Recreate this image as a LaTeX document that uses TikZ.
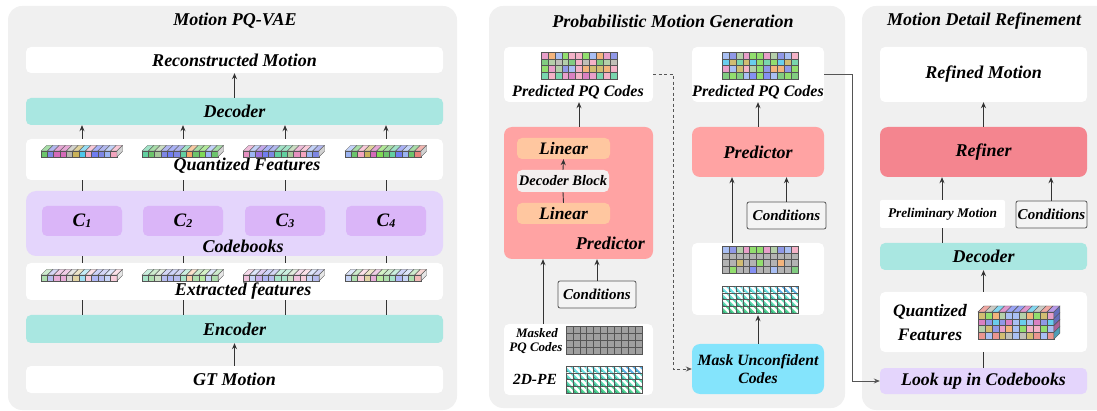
\documentclass[tikz,border=0pt]{standalone}
\usepackage{fontspec}
\setmainfont{Liberation Serif}
\usetikzlibrary{arrows.meta}

\definecolor{panelbg}{HTML}{F0F0F0}
\definecolor{tealb}{HTML}{A9E7E1}
\definecolor{lav}{HTML}{E4D5FC}
\definecolor{lavin}{HTML}{DAB5F8}
\definecolor{salmonb}{HTML}{FFA3A3}
\definecolor{peach}{HTML}{FFC7A0}
\definecolor{pinkr}{HTML}{F4858F}
\definecolor{cyanb}{HTML}{84E4FC}
\definecolor{linec}{HTML}{333333}
\definecolor{condbg}{HTML}{F4F4F4}
\definecolor{edgec}{HTML}{555555}
\definecolor{decblk}{HTML}{F3EFEF}
\definecolor{peA}{HTML}{6FE0E6}
\definecolor{peB}{HTML}{4CD088}
\definecolor{peC}{HTML}{5AAEE6}
\definecolor{peD}{HTML}{2A9A78}
% code palette
\definecolor{p1}{HTML}{6CC46C}
\definecolor{p2}{HTML}{7D86E3}
\definecolor{p3}{HTML}{D46AB8}
\definecolor{p4}{HTML}{E58FC0}
\definecolor{p5}{HTML}{B5B5AC}
\definecolor{p6}{HTML}{C9B25A}
\definecolor{p7}{HTML}{4FC6EA}
\definecolor{p8}{HTML}{F3A5BE}
\definecolor{p9}{HTML}{6F7DF0}
\definecolor{p10}{HTML}{9BB4F2}
\definecolor{p11}{HTML}{62CFA0}
\definecolor{p12}{HTML}{F2A766}
\definecolor{p13}{HTML}{E8837C}
\definecolor{p14}{HTML}{7FD955}
\definecolor{p15}{HTML}{9B6FDE}
\definecolor{p16}{HTML}{A7C79A}

\newcommand\bi[1]{\fontsize{#1}{#1}\selectfont\bfseries\itshape}

% box from corner coordinates: name, x1, y1, x2, y2, style, text
\newcommand\bx[7]{\node[#6,minimum width={((#4)-(#2))*1pt},minimum height={((#5)-(#3))*1pt}] (#1) at ({((#2)+(#4))/2},{((#3)+(#5))/2}) {#7};}

% 3D feature bar: x, y (top of front face), opacity, colours
\newcommand\fbar[4]{%
  \foreach \cc [count=\i from 0] in {#4}{%
    \pgfmathsetmacro\xa{#1+\i*6.33}
    \filldraw[fill=\cc,fill opacity=#3,draw=edgec,line width=0.35pt] (\xa,#2) rectangle ++(6.33,6);
    \filldraw[fill=\cc!60!white,fill opacity=#3,draw=edgec,line width=0.35pt] (\xa,#2) -- ++(5.5,-5.5) -- ++(6.33,0) -- ++(-5.5,5.5) -- cycle;
  }
  \filldraw[fill=gray!35,fill opacity=#3,draw=edgec,line width=0.35pt] ({#1+75.96},#2) -- ++(5.5,-5.5) -- ++(0,6) -- ++(-5.5,5.5) -- cycle;
}

% coloured code grid: x, y, seed
\newcommand\cgrid[3]{%
  \foreach \r in {0,...,3}{\foreach \c in {0,...,10}{%
    \pgfmathtruncatemacro\k{mod(\c*\c*3+\r*\c*7+\r*13+\c*5+#3,16)+1}
    \filldraw[fill=p\k,fill opacity=0.85,draw=edgec,line width=0.4pt] ({#1+\c*6.9},{#2+\r*6.8}) rectangle ++(6.9,6.8);
  }}}

% partly masked code grid: x, y, seed
\newcommand\mgrid[3]{%
  \foreach \r in {0,...,3}{\foreach \c in {0,...,10}{%
    \pgfmathtruncatemacro\k{mod(\c*\c*3+\r*\c*7+\r*13+\c*5+#3,16)+1}
    \pgfmathtruncatemacro\m{mod(\c*5+\r*3+\c*\r+#3,3)}
    \ifnum\r>0 \ifnum\m<2 \def\fc{gray!70}\else\def\fc{p\k}\fi\else\def\fc{p\k}\fi
    \filldraw[fill=\fc,fill opacity=0.85,draw=edgec,line width=0.4pt] ({#1+\c*6.9},{#2+\r*6.8}) rectangle ++(6.9,6.8);
  }}}

% fully masked grid: x, y
\newcommand\graygrid[2]{%
  \foreach \r in {0,...,3}{\foreach \c in {0,...,10}{%
    \filldraw[fill=gray!75,draw=edgec,line width=0.5pt] ({#1+\c*6.9},{#2+\r*7}) rectangle ++(6.9,7);
  }}}

% positional encoding grid: x, y
\newcommand\pegrid[2]{%
  \foreach \r in {0,...,3}{\foreach \c in {0,...,10}{%
    \pgfmathsetmacro\xa{#1+\c*6.9}
    \pgfmathsetmacro\ya{#2+\r*6.8}
    \pgfmathtruncatemacro\mixv{100-\r*30}
    \ifnum\r=0 \ifnum\c>7 \def\fc{peC}\else\def\fc{peA}\fi\else\def\fc{peA!\mixv!peB}\fi
    \begin{scope}
      \clip (\xa,\ya) rectangle ++(6.9,6.8);
      \fill[\fc] (\xa,\ya) rectangle ++(6.9,6.8);
      \draw[peD,line width=0.7pt] (\xa-3,\ya+1) -- ++(7,7);
      \draw[white,line width=2.6pt] (\xa+0.8,\ya-0.5) -- ++(7,7);
    \end{scope}
    \draw[edgec,line width=0.4pt] (\xa,\ya) rectangle ++(6.9,6.8);
  }}}

% code block drawn in 3D: x, y (top-left of front face), seed
\newcommand\codecube[3]{%
  \cgrid{#1}{#2}{#3}
  \foreach \c in {0,...,10}{%
    \pgfmathtruncatemacro\k{mod(\c*\c*5+\c*3+#3+7,16)+1}
    \filldraw[fill=p\k!70!white,draw=edgec,line width=0.4pt] ({#1+\c*6.9},#2) -- ++(6,-6) -- ++(6.9,0) -- ++(-6,6) -- cycle;
  }
  \foreach \r in {0,...,3}{%
    \pgfmathtruncatemacro\k{mod(\r*\r*5+\r*11+#3+3,16)+1}
    \filldraw[fill=p\k!75!black!90,draw=edgec,line width=0.4pt] ({#1+75.9},{#2+\r*6.8}) -- ++(6,-6) -- ++(0,6.8) -- ++(-6,6) -- cycle;
  }}

\begin{document}
\begin{tikzpicture}[x=1pt,y=-1pt,
  panel/.style={fill=panelbg,rounded corners=14pt,inner sep=0pt},
  box/.style={rounded corners=5pt,inner sep=0pt,font=\bi{18}},
  wbox/.style={box,fill=white},
  tip/.style={-{Stealth[length=6pt,width=5pt]}},
  arr/.style={draw=linec,line width=0.9pt,tip},
  ln/.style={draw=linec,line width=0.9pt},
  lbl/.style={inner sep=0pt,font=\bi{18}},
  cond/.style={box,fill=condbg,draw=edgec,line width=0.8pt,rounded corners=2pt,font=\bi{15}},
]
\useasboundingbox (0,0) rectangle (1097,411);

% ---------- panels ----------
\bx{pa}{8}{6}{457}{410}{panel}{}
\bx{pb}{489}{6}{845}{408}{panel}{}
\bx{pc}{862}{6}{1115}{410}{panel}{}
\node[lbl] (ta) at (235,21) {Motion PQ-VAE};
\node[lbl] (tb) at (673,21) {Probabilistic Motion Generation};
\node[lbl] (tc) at (984,21) {Motion Detail Refinement};

% ---------- Motion PQ-VAE ----------
\bx{recon}{26}{47}{443}{73}{wbox}{Reconstructed Motion}
\bx{dec}{26}{98}{443}{125}{box,fill=tealb}{Decoder}
\bx{qf}{26}{139}{443}{180}{wbox}{}
\node[lbl] (qft) at (247,166) {Quantized Features};
\bx{cb}{26}{191}{443}{256}{box,fill=lav,rounded corners=10pt}{}
\node[lbl] (cbt) at (243,246) {Codebooks};
\bx{ef}{26}{263}{443}{300}{wbox}{}
\node[lbl] (eft) at (243,291) {Extracted features};
\bx{enc}{26}{315}{443}{343}{box,fill=tealb}{Encoder}
\bx{gt}{26}{366}{443}{393}{wbox}{GT Motion}

\foreach \x [count=\i] in {82,183,285,386}{%
  \coordinate (k\i) at (\x,0);
  \bx{cbk\i}{\x-40}{206}{\x+40}{236}{box,fill=lavin,font=\bi{19}}{C\kern0.3pt{\bi{12}\raisebox{-1pt}{\i}}}
}
\fbar{41}{151}{1}{p1,p2,p3,p3,p5,p6,p7,p8,p9,p2,p10,p8}
\fbar{142}{151}{1}{p11,p1,p16,p2,p9,p2,p11,p12,p1,p14,p10,p1}
\fbar{243}{151}{1}{p4,p10,p15,p9,p2,p11,p11,p16,p4,p8,p10,p2}
\fbar{345}{151}{1}{p10,p1,p8,p6,p3,p14,p1,p11,p9,p10,p1,p13}
\fbar{41}{275}{0.55}{p1,p2,p3,p3,p5,p6,p7,p8,p9,p2,p10,p8}
\fbar{142}{275}{0.55}{p11,p1,p16,p2,p9,p2,p11,p12,p1,p14,p10,p1}
\fbar{243}{275}{0.55}{p4,p10,p15,p9,p2,p11,p11,p16,p4,p8,p10,p2}
\fbar{345}{275}{0.55}{p10,p1,p8,p6,p3,p14,p1,p11,p9,p10,p1,p13}

\draw[arr] (dec.north) -- (recon.south);
\draw[arr] (gt.north) -- (enc.south);
\foreach \i in {1,...,4}{%
  \draw[arr] (qf.north -| k\i) -- (dec.south -| k\i);
  \draw[ln] (cb.north -| k\i) -- (qf.south -| k\i);
  \draw[ln] (ef.north -| k\i) -- (cb.south -| k\i);
  \draw[ln] (enc.north -| k\i) -- (ef.south -| k\i);
}

% ---------- Probabilistic Motion Generation ----------
% left column
\bx{predA}{504}{47}{653}{102}{wbox}{}
\cgrid{541}{52}{3}
\node[lbl,font=\bi{16}] (predAt) at (578,92) {Predicted PQ Codes};
\bx{prA}{504}{127}{653}{259}{box,fill=salmonb,rounded corners=8pt}{}
\bx{lin1}{517}{138}{610}{159}{box,fill=peach,font=\bi{17.5}}{Linear}
\bx{dblk}{517}{170}{609}{192}{box,fill=decblk,font=\bi{14.5}}{Decoder Block}
\bx{lin2}{517}{203}{610}{224}{box,fill=peach,font=\bi{17.5}}{Linear}
\node[lbl,font=\bi{18},anchor=east] (prAt) at (645,243) {Predictor};
\bx{condA}{558}{281}{636}{308}{cond}{Conditions}
\bx{inA}{504}{324}{653}{395}{wbox}{}
\node[lbl,font=\bi{13}] (mkt1) at (537,333) {Masked};
\node[lbl,font=\bi{13}] (mkt2) at (536,348) {PQ Codes};
\node[lbl,font=\bi{15.5}] (pet) at (535,379) {2D-PE};
\graygrid{566}{326}
\pegrid{566}{366}

\draw[arr] (prA.north -| 579,0) -- (predA.south -| 579,0);
\draw[arr] (dblk.north) -- (lin1.south);
\draw[ln] (lin2.north) -- (dblk.south);
\draw[arr] (inA.north -| 543,0) -- (prA.south -| 543,0);
\draw[arr] (condA.north) -- (prA.south -| condA.north);

% right column
\bx{predB}{692}{47}{824}{102}{wbox}{}
\cgrid{722}{52}{9}
\node[lbl,font=\bi{16}] (predBt) at (758,92) {Predicted PQ Codes};
\bx{prB}{692}{127}{824}{177}{box,fill=salmonb,rounded corners=8pt,font=\bi{18}}{Predictor}
\bx{condB}{747}{202}{826}{229}{cond}{Conditions}
\bx{mixB}{692}{243}{824}{315}{wbox}{}
\mgrid{722}{246}{9}
\pegrid{722}{286}
\bx{mask}{692}{344}{824}{394}{box,fill=cyanb,rounded corners=8pt,align=center,font=\bi{15.7}}{Mask Unconfident\\[3pt]Codes}

\draw[arr] (prB.north) -- (predB.south);
\draw[arr] (mixB.north -| 732,0) -- (prB.south -| 732,0);
\draw[arr] (condB.north) -- (prB.south -| condB.north);
\draw[arr] (mask.north) -- (mixB.south);
\draw[draw=edgec,line width=0.9pt,dash pattern=on 3pt off 2.5pt,tip]
  (predA.east |- 0,74) -- (673,74) |- (mask.west);

% ---------- Motion Detail Refinement ----------
\bx{refm}{880}{47}{1087}{102}{wbox,font=\bi{18}}{Refined Motion}
\bx{refiner}{880}{127}{1087}{177}{box,fill=pinkr,rounded corners=8pt,font=\bi{18}}{Refiner}
\bx{prel}{880}{200}{1005}{228}{wbox,rounded corners=2pt,font=\bi{13.3}}{Preliminary Motion}
\bx{condC}{1016}{201}{1087}{228}{cond,font=\bi{15}}{Conditions}
\bx{decC}{880}{243}{1087}{270}{box,fill=tealb}{Decoder}
\bx{qfC}{880}{292}{1087}{352}{wbox}{}
\node[lbl,font=\bi{17.5}] (qfC1) at (930,312) {Quantized};
\node[lbl,font=\bi{17.5}] (qfC2) at (930,335) {Features};
\codecube{978}{312}{5}
\bx{look}{880}{368}{1087}{394}{box,fill=lav,font=\bi{17.8}}{Look up in Codebooks}

\draw[arr] (refiner.north) -- (refm.south);
\draw[arr] (prel.north -| 942,0) -- (refiner.south -| 942,0);
\draw[arr] (condC.north -| 1051,0) -- (refiner.south -| 1051,0);
\draw[ln] (decC.north -| 942,0) -- (prel.south -| 942,0);
\draw[arr] (qfC.north) -- (decC.south);
\draw[ln] (look.north) -- (qfC.south);
\draw[draw=edgec,line width=0.9pt,tip]
  (predB.east |- 0,74) -- (852,74) |- (look.west);
\end{tikzpicture}
\end{document}
